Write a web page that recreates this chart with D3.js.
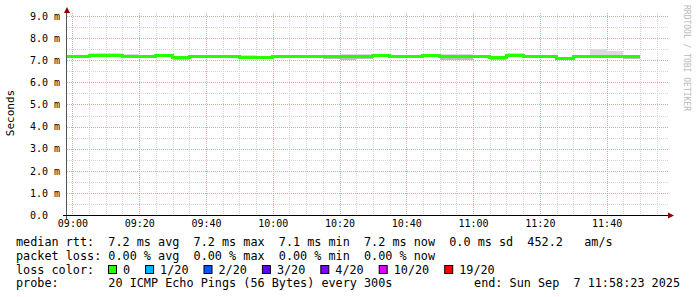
<!DOCTYPE html>
<html>
<head>
<meta charset="utf-8">
<script src="https://cdn.jsdelivr.net/npm/d3@7"></script>
<style>
  body { margin: 0; background: #fff; }
  svg { display: block; }
  text { font-family: "DejaVu Sans Mono", monospace; white-space: pre; }
</style>
</head>
<body>
<div id="chart"></div>
<script>
// -------------------- DATA --------------------
// end time of each 5 minute step (rrd step 300s)
const stepEnds = [
  "09:00", "09:05", "09:10", "09:15", "09:20", "09:25", "09:30", "09:35", "09:40",
  "09:45", "09:50", "09:55", "10:00", "10:05", "10:10", "10:15", "10:20", "10:25",
  "10:30", "10:35", "10:40", "10:45", "10:50", "10:55", "11:00", "11:05", "11:10",
  "11:15", "11:20", "11:25", "11:30", "11:35", "11:40", "11:45", "11:50"
];
// median rtt in ms
const medianMs = [
  7.17, 7.17, 7.20, 7.20, 7.15, 7.16, 7.20, 7.14, 7.16,
  7.16, 7.16, 7.12, 7.14, 7.16, 7.16, 7.16, 7.18, 7.16,
  7.17, 7.20, 7.15, 7.17, 7.20, 7.19, 7.19, 7.18, 7.12,
  7.20, 7.18, 7.19, 7.10, 7.17, 7.17, 7.17, 7.18
];
// smoke: lowest and highest ping of the 20
const smokeLoMs = [
  7.14, 7.14, 7.17, 7.17, 7.12, 7.13, 7.17, 7.03, 7.13,
  7.13, 7.13, 7.09, 7.11, 7.13, 7.13, 7.13, 7.05, 7.02,
  7.06, 7.17, 7.12, 7.14, 7.17, 7.01, 7.01, 7.15, 7.00,
  7.17, 7.15, 7.16, 7.07, 7.14, 7.14, 7.14, 7.05
];
const smokeHiMs = [
  7.20, 7.20, 7.32, 7.32, 7.28, 7.19, 7.23, 7.17, 7.19,
  7.19, 7.19, 7.23, 7.17, 7.19, 7.19, 7.19, 7.24, 7.27,
  7.27, 7.23, 7.25, 7.20, 7.23, 7.30, 7.30, 7.21, 7.15,
  7.33, 7.21, 7.25, 7.13, 7.25, 7.51, 7.42, 7.21
];

const yTicks = [0, 1, 2, 3, 4, 5, 6, 7, 8, 9];
const yTickLabels = ["0.0  ", "1.0 m", "2.0 m", "3.0 m", "4.0 m", "5.0 m", "6.0 m", "7.0 m", "8.0 m", "9.0 m"];
const xTickLabels = ["09:00", "09:20", "09:40", "10:00", "10:20", "10:40", "11:00", "11:20", "11:40"];

const lossLabels = ["0", "1/20", "2/20", "3/20", "4/20", "10/20", "19/20"];
const lossColors = ["#26ff00", "#00b8ff", "#0059ff", "#5e00ff", "#7e00ff", "#dd00ff", "#ff0000"];

const legendLines = [
  "median rtt:  7.2 ms avg  7.2 ms max  7.1 ms min  7.2 ms now  0.0 ms sd  452.2   am/s",
  "packet loss: 0.00 % avg  0.00 % max  0.00 % min  0.00 % now",
  "loss color:",
  "probe:       20 ICMP Echo Pings (56 Bytes) every 300s"
];
const endText = "end: Sun Sep  7 11:58:23 2025";

// -------------------- CHART --------------------
const width = 697, height = 297;
const t = s => {
  const p = s.split(":").map(Number);
  return new Date(Date.UTC(2025, 8, 7, p[0], p[1], p[2] || 0));
};

const x = d3.scaleUtc().domain([t("08:58:23"), t("11:58:23")]).range([67, 668]);
const y = d3.scaleLinear().domain([0, 9.14]).range([215, 13]);

const svg = d3.select("#chart").append("svg")
  .attr("width", width).attr("height", height);

svg.append("rect").attr("width", width).attr("height", height).attr("fill", "#fff");

svg.append("clipPath").attr("id", "plot")
  .append("rect").attr("x", 67).attr("y", 13).attr("width", 601).attr("height", 202);

// grid
const grid = svg.append("g").attr("shape-rendering", "crispEdges");
const minorY = d3.range(0.5, 9.1, 1);
const minorX = d3.utcMinute.every(5).range(x.domain()[0], x.domain()[1]).filter(d => d.getUTCMinutes() % 20 !== 0);
const majorX = xTickLabels.map(t);

grid.selectAll(".minor-y").data(minorY).enter().append("line")
  .attr("x1", 67).attr("x2", 668)
  .attr("y1", d => Math.round(y(d)) + 0.5).attr("y2", d => Math.round(y(d)) + 0.5)
  .attr("stroke", "#d4d4d4").attr("stroke-dasharray", "1,1");
grid.selectAll(".minor-x").data(minorX).enter().append("line")
  .attr("x1", d => Math.round(x(d)) + 0.5).attr("x2", d => Math.round(x(d)) + 0.5)
  .attr("y1", 13).attr("y2", 215)
  .attr("stroke", "#d4d4d4").attr("stroke-dasharray", "1,1");
grid.selectAll(".major-y").data(yTicks.slice(1)).enter().append("line")
  .attr("x1", 67).attr("x2", 668)
  .attr("y1", d => Math.round(y(d)) + 0.5).attr("y2", d => Math.round(y(d)) + 0.5)
  .attr("stroke", "#e8a0a0").attr("stroke-dasharray", "1,1");
grid.selectAll(".major-x").data(majorX).enter().append("line")
  .attr("x1", d => Math.round(x(d)) + 0.5).attr("x2", d => Math.round(x(d)) + 0.5)
  .attr("y1", 13).attr("y2", 215)
  .attr("stroke", "#e8a0a0").attr("stroke-dasharray", "1,1");

// smoke + median
const steps = stepEnds.map((e, i) => {
  const end = t(e);
  return { start: new Date(+end - 300000), end: end, med: medianMs[i], lo: smokeLoMs[i], hi: smokeHiMs[i] };
});

const data = svg.append("g").attr("clip-path", "url(#plot)");

// upper smoke (lighter)
data.selectAll(".smoke-hi").data(steps).enter().append("rect")
  .attr("x", d => x(d.start))
  .attr("width", d => x(d.end) - x(d.start))
  .attr("y", d => y(d.hi))
  .attr("height", d => y(d.med) - y(d.hi))
  .attr("fill", "#dadada")
  .attr("shape-rendering", "crispEdges");
// lower smoke (darker)
data.selectAll(".smoke-lo").data(steps).enter().append("rect")
  .attr("x", d => x(d.start))
  .attr("width", d => x(d.end) - x(d.start))
  .attr("y", d => y(d.med))
  .attr("height", d => y(d.lo) - y(d.med))
  .attr("fill", "#bdbdbd")
  .attr("shape-rendering", "crispEdges");

const pts = [];
steps.forEach(d => { pts.push([d.start, d.med]); pts.push([d.end, d.med]); });
data.append("path")
  .datum(pts)
  .attr("fill", "none")
  .attr("stroke", lossColors[0])
  .attr("stroke-width", 3)
  .attr("shape-rendering", "crispEdges")
  .attr("d", d3.line().x(d => x(d[0])).y(d => y(d[1])));

// axes
const yAxis = svg.append("g").attr("transform", "translate(67,0)")
  .call(d3.axisLeft(y).tickValues(yTicks).tickSize(0).tickPadding(7)
    .tickFormat((d, i) => yTickLabels[i]));
const xAxis = svg.append("g").attr("transform", "translate(0,215)")
  .call(d3.axisBottom(x).tickValues(majorX).tickSize(0).tickPadding(5)
    .tickFormat(d3.utcFormat("%H:%M")));
[yAxis, xAxis].forEach(a => {
  a.select(".domain").remove();
  a.selectAll("text").attr("font-family", "DejaVu Sans Mono").style("font-size", "10px").attr("fill", "#000");
});

svg.append("line").attr("x1", 66.5).attr("x2", 66.5).attr("y1", 219).attr("y2", 12)
  .attr("stroke", "#555");
svg.append("line").attr("x1", 63).attr("x2", 670).attr("y1", 215.5).attr("y2", 215.5)
  .attr("stroke", "#000");
svg.append("path").attr("d", "M67,7 L64,13 L70,13 Z").attr("fill", "#8b0000");
svg.append("path").attr("d", "M674,215.5 L668,212.5 L668,218.5 Z").attr("fill", "#8b0000");

// vertical label + watermark
svg.append("text")
  .attr("transform", "translate(14,113) rotate(-90)")
  .attr("text-anchor", "middle")
  .style("font-size", "11px")
  .text("Seconds");
svg.append("text")
  .attr("transform", "translate(684,5) rotate(90)")
  .style("font-size", "8px")
  .attr("fill", "#b8b8b8")
  .text("RRDTOOL / TOBI OETIKER");

// -------------------- LEGEND --------------------
const charW = 7.1;
const lineY = [245.5, 259.5, 273.5, 287];
svg.selectAll(".legend-line").data(legendLines).enter().append("text")
  .attr("x", 16)
  .attr("y", (d, i) => lineY[i])
  .style("font-size", "11.8px")
  .text(d => d);
svg.append("text")
  .attr("x", 680).attr("y", lineY[3])
  .attr("text-anchor", "end")
  .style("font-size", "11.8px")
  .text(endText);

let bx = 108;
lossLabels.forEach((lbl, i) => {
  svg.append("rect")
    .attr("x", bx + 0.5).attr("y", 265.5)
    .attr("width", 8).attr("height", 8)
    .attr("fill", lossColors[i]).attr("stroke", "#000");
  svg.append("text")
    .attr("x", bx + 15).attr("y", lineY[2])
    .style("font-size", "11.8px")
    .text(lbl);
  bx = bx + 15 + lbl.length * charW + 15;
});
</script>
</body>
</html>
